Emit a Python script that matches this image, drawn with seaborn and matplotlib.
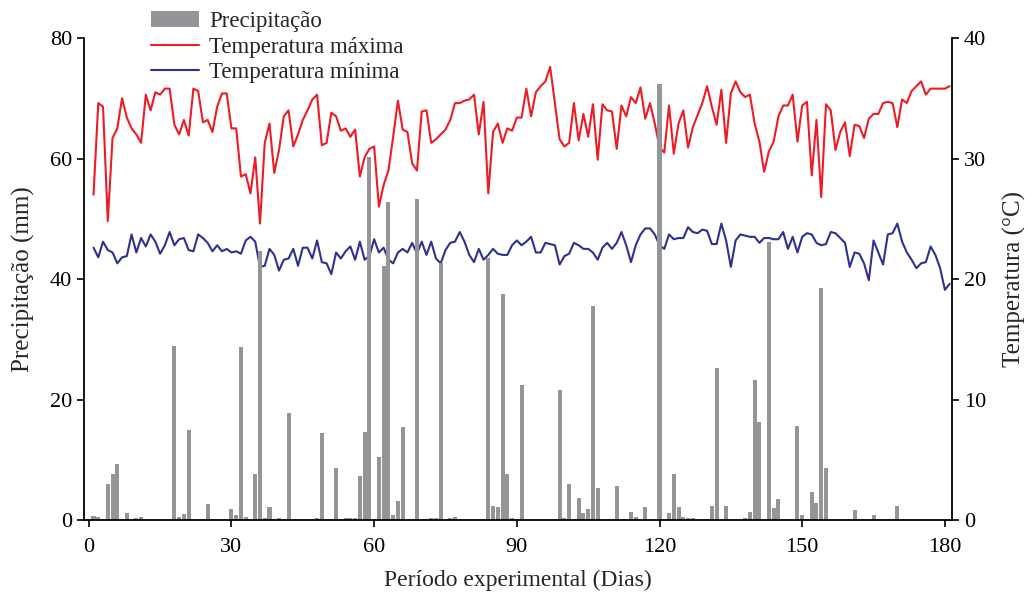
import numpy as np
import pandas as pd
import matplotlib
matplotlib.use("Agg")
import matplotlib.pyplot as plt
import seaborn as sns
from matplotlib.patches import Patch
from matplotlib.lines import Line2D

# Daily series, days 1..181
days = list(range(1, 182))

t_max = [
    27.0, 34.6, 34.3, 24.8, 31.7, 32.5, 35.0, 33.4, 32.5, 32.0,
    31.3, 35.3, 34.0, 35.5, 35.3, 35.8, 35.8, 32.8, 32.0, 33.2,
    31.9, 35.8, 35.6, 33.0, 33.2, 32.2, 34.3, 35.4, 35.4, 32.5,
    32.5, 28.5, 28.7, 27.1, 30.1, 24.6, 31.3, 32.9, 28.8, 30.7,
    33.5, 34.0, 31.0, 32.0, 33.2, 34.0, 34.9, 35.3, 31.1, 31.3,
    33.8, 33.5, 32.3, 32.5, 31.8, 32.4, 28.5, 30.1, 30.8, 31.0,
    26.0, 27.8, 29.0, 31.8, 34.8, 32.4, 32.2, 29.6, 29.0, 33.9,
    34.0, 31.3, 31.6, 32.0, 32.4, 33.2, 34.6, 34.6, 34.8, 34.9,
    35.3, 32.0, 34.7, 27.1, 32.2, 32.9, 31.3, 32.5, 32.3, 33.4,
    33.4, 35.8, 33.5, 35.5, 36.0, 36.4, 37.6, 34.6, 31.6, 31.0,
    31.3, 34.6, 31.5, 33.7, 31.8, 34.5, 29.9, 34.5, 34.0, 33.9,
    30.8, 34.4, 33.5, 35.1, 34.6, 35.9, 33.3, 34.6, 32.9, 30.9,
    30.5, 34.4, 30.4, 32.9, 34.0, 30.9, 32.6, 33.6, 34.6, 36.0,
    34.3, 32.8, 35.7, 31.3, 35.4, 36.4, 35.5, 35.1, 35.3, 32.9,
    31.4, 28.9, 30.6, 31.4, 33.5, 34.4, 34.4, 35.3, 31.4, 34.4,
    34.7, 28.6, 33.2, 26.8, 34.5, 34.0, 30.7, 32.2, 33.0, 30.2,
    32.8, 32.7, 31.7, 33.3, 33.7, 33.7, 34.6, 34.7, 34.6, 32.6,
    34.9, 34.6, 35.6, 36.0, 36.4, 35.3, 35.8, 35.8, 35.8, 35.8,
    36.0,
]

t_min = [
    22.6, 21.8, 23.1, 22.4, 22.2, 21.3, 21.8, 21.9, 23.7, 22.2,
    23.4, 22.7, 23.7, 23.1, 22.1, 22.8, 23.9, 22.8, 23.3, 23.4,
    22.4, 22.3, 23.7, 23.4, 23.0, 22.3, 22.8, 22.3, 22.5, 22.2,
    22.3, 22.1, 23.2, 23.5, 23.1, 21.0, 21.1, 22.5, 22.0, 20.7,
    21.6, 21.7, 22.5, 21.1, 22.6, 22.6, 21.7, 23.2, 21.4, 21.3,
    20.4, 22.2, 21.7, 22.3, 22.7, 21.6, 23.1, 21.6, 21.9, 23.3,
    22.2, 22.6, 21.6, 21.3, 22.2, 22.5, 22.2, 23.0, 22.1, 23.1,
    22.0, 23.1, 21.7, 21.3, 22.4, 23.0, 23.1, 23.9, 23.1, 22.0,
    21.4, 22.5, 21.6, 22.0, 22.5, 22.1, 22.0, 22.0, 22.8, 23.2,
    22.8, 23.1, 23.5, 22.2, 22.2, 23.0, 22.9, 22.8, 21.2, 21.9,
    22.1, 23.0, 22.8, 22.5, 22.5, 22.2, 21.6, 22.6, 23.0, 22.5,
    23.0, 23.9, 22.8, 21.4, 22.8, 23.7, 24.2, 24.2, 23.7, 22.8,
    22.5, 23.7, 23.3, 23.4, 23.4, 24.3, 23.9, 23.8, 24.1, 24.0,
    22.9, 22.9, 24.6, 23.2, 21.0, 23.2, 23.7, 23.6, 23.5, 23.5,
    23.0, 23.4, 23.4, 23.3, 23.3, 23.9, 22.5, 23.5, 22.2, 23.5,
    23.8, 23.7, 23.0, 22.8, 22.9, 23.9, 23.8, 23.4, 23.0, 21.0,
    22.2, 22.1, 21.3, 19.9, 23.2, 22.2, 21.2, 23.7, 23.8, 24.6,
    23.1, 22.2, 21.6, 20.9, 21.3, 21.4, 22.7, 22.0, 20.9, 19.1,
    19.6,
]

# Rainy days and precipitation (mm)
rain_days = [
    1, 2, 4, 5, 6, 8, 10, 11, 18, 19, 20, 21, 25, 30, 31, 32, 33, 35, 36, 37,
    38, 40, 42, 48, 49, 52, 54, 55, 56, 57, 58, 59, 61, 62, 63, 64, 65, 66, 69, 72,
    73, 74, 76, 77, 84, 85, 86, 87, 88, 89, 91, 99, 100, 101, 103, 104, 105, 106, 107, 111,
    114, 115, 117, 120, 122, 123, 124, 125, 126, 127, 131, 132, 134, 138, 139, 140, 141, 143, 144, 145,
    149, 150, 152, 153, 154, 155, 161, 165, 170,
]
rain_mm = [
    0.7, 0.5, 5.9, 7.6, 9.3, 1.1, 0.4, 0.5, 28.9, 0.5, 1.0, 15.0, 2.6, 1.8, 0.8, 28.7, 0.5, 7.7, 44.7, 0.4,
    2.2, 0.4, 17.7, 0.4, 14.4, 8.7, 0.4, 0.4, 0.4, 7.3, 14.6, 60.2, 10.5, 42.2, 52.8, 0.8, 3.1, 15.5, 53.2, 0.35,
    0.4, 42.6, 0.4, 0.5, 43.5, 2.3, 2.2, 37.5, 7.7, 0.4, 22.4, 21.6, 0.4, 5.9, 3.7, 1.2, 1.9, 35.6, 5.3, 5.7,
    1.4, 0.5, 2.2, 72.3, 1.1, 7.6, 2.2, 0.5, 0.4, 0.4, 2.3, 25.3, 2.4, 0.4, 1.4, 23.3, 16.3, 46.2, 2.0, 3.5,
    15.6, 0.8, 4.7, 2.9, 38.5, 8.7, 1.7, 0.8, 2.3,
]

rain = pd.DataFrame({"Dia": rain_days, "Precipitação": rain_mm})
temp = pd.DataFrame({"Dia": days, "Tmax": t_max, "Tmin": t_min})

bar_color = "#939598"
red = "#ED1C24"
blue = "#2E3192"

sns.set_style("ticks")
plt.rcParams["font.family"] = ["Liberation Serif", "DejaVu Serif"]

fig = plt.figure(figsize=(10.27, 5.93), dpi=100)
ax = fig.add_axes([0.0818, 0.1231, 0.927 - 0.0818, 0.9359 - 0.1231])
ax2 = ax.twinx()

# bars drawn over the temperature lines
ax2.set_zorder(ax.get_zorder() - 1)
ax.patch.set_visible(False)

sns.lineplot(data=temp, x="Dia", y="Tmax", ax=ax2, color=red, linewidth=1.5)
sns.lineplot(data=temp, x="Dia", y="Tmin", ax=ax2, color=blue, linewidth=1.5)
sns.barplot(data=rain, x="Dia", y="Precipitação", ax=ax, native_scale=True,
            color=bar_color, saturation=1, width=0.85, errorbar=None,
            linewidth=0, edgecolor="none")

ax.set_xlim(-1, 181.5)
ax.set_ylim(0, 80)
ax2.set_ylim(0, 40)
ax.set_xticks(range(0, 181, 30))
ax.set_yticks([0, 20, 40, 60, 80])
ax2.set_yticks([0, 10, 20, 30, 40])

ax.set_xlabel("Período experimental (Dias)", fontsize=17, labelpad=9)
ax.set_ylabel("Precipitação (mm)", fontsize=18, labelpad=11)
ax2.set_ylabel("Temperatura (°C)", fontsize=18, labelpad=12)

for a in (ax, ax2):
    a.spines["top"].set_visible(False)
    for s in a.spines.values():
        s.set_linewidth(1.3)
        s.set_color("black")
    a.tick_params(direction="out", length=5, width=1.2, labelsize=16, colors="black")
ax.tick_params(axis="x", pad=8)
ax.spines["right"].set_visible(False)
ax2.spines["left"].set_visible(False)
ax2.spines["bottom"].set_visible(False)

handles = [
    Patch(facecolor=bar_color, edgecolor="none"),
    Line2D([], [], color=red, linewidth=1.5),
    Line2D([], [], color=blue, linewidth=1.5),
]
labels = ["Precipitação", "Temperatura máxima", "Temperatura mínima"]
fig.legend(handles, labels, loc="upper left", bbox_to_anchor=(151 / 1027, 1 - 11 / 593),
           frameon=False, fontsize=16.5, handlelength=2.1, handletextpad=0.45,
           labelspacing=0.2, borderpad=0, borderaxespad=0)

fig.savefig("out.png", dpi=100)
